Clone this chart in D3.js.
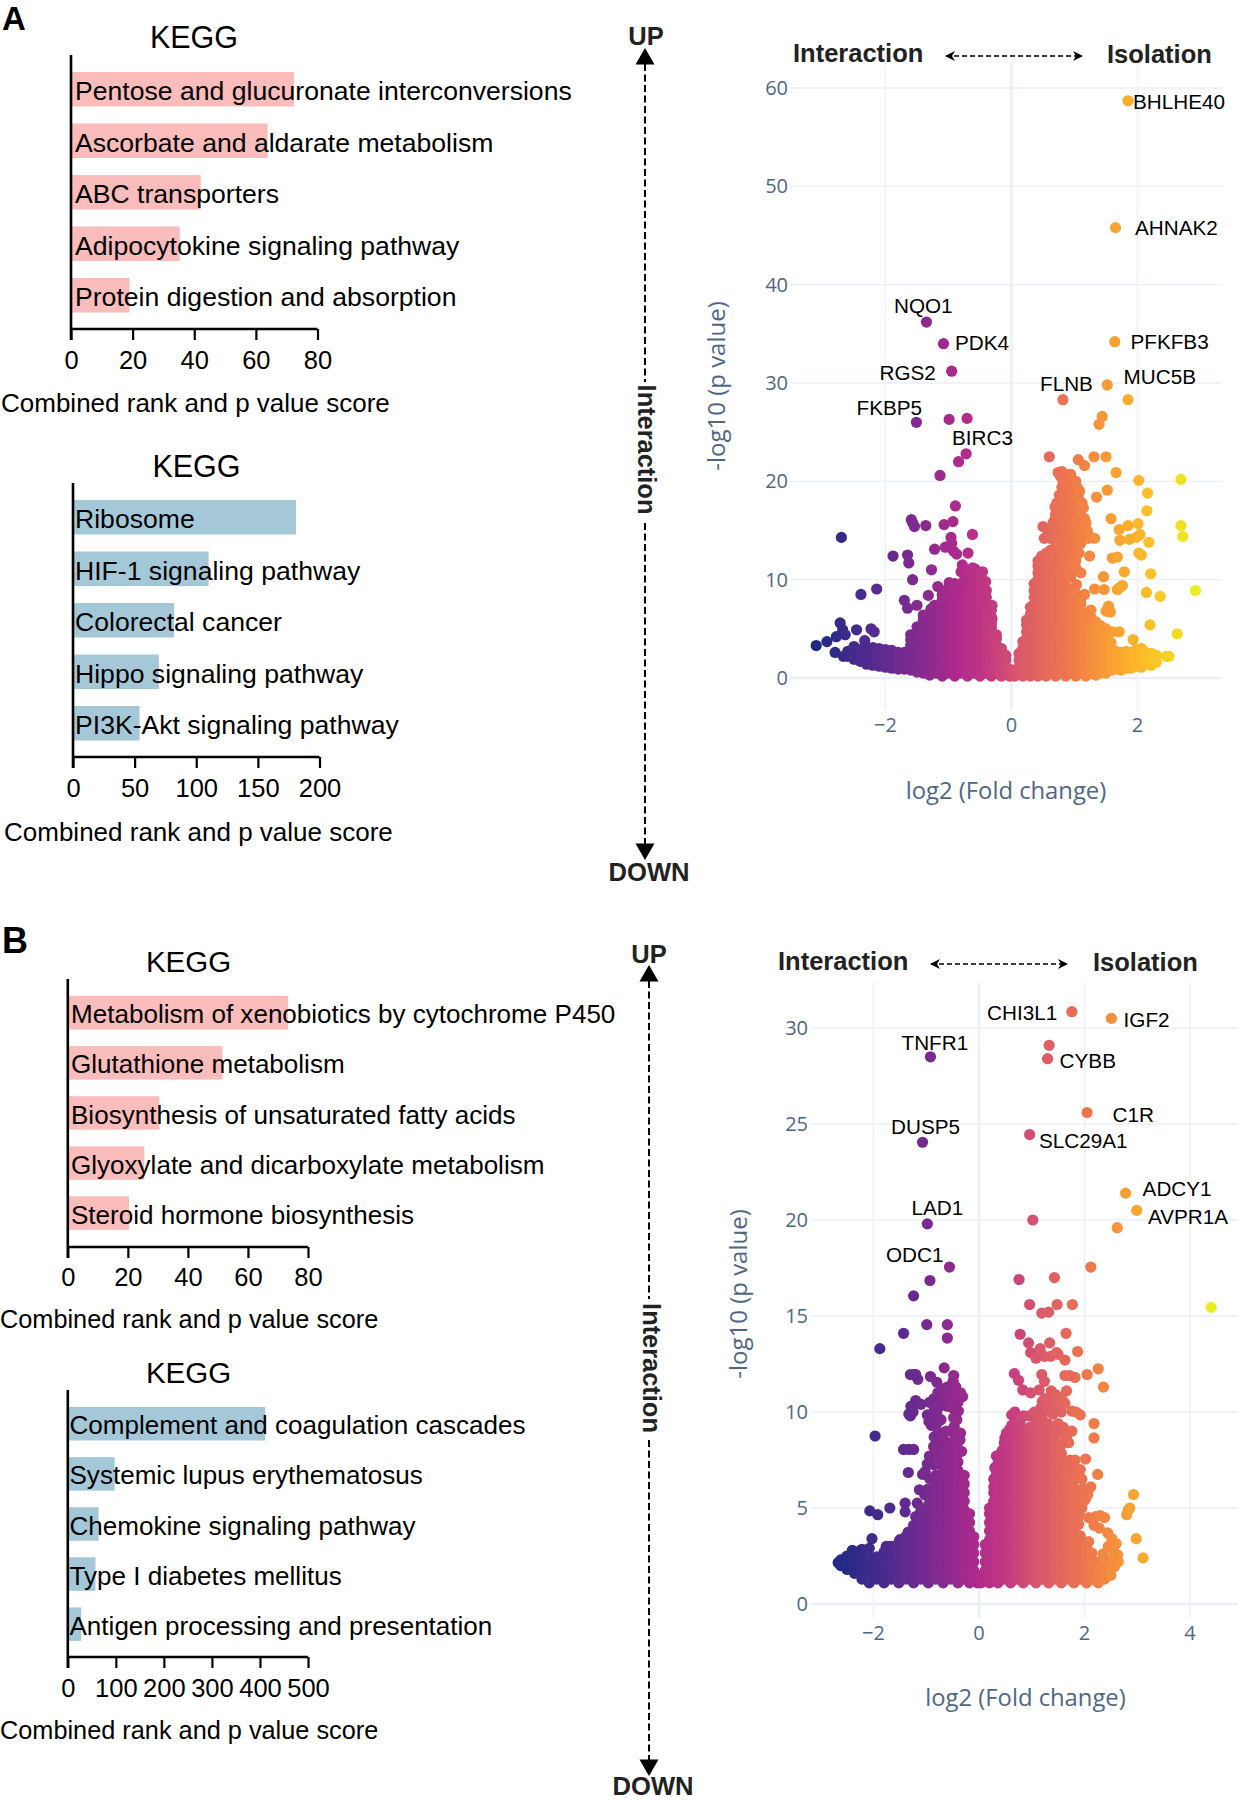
<!DOCTYPE html>
<html><head><meta charset="utf-8">
<style>html,body{margin:0;padding:0;background:#fff}svg{display:block}</style>
<script src="https://cdn.jsdelivr.net/npm/d3@7/dist/d3.min.js"></script></head><body>
<svg id="c" width="1240" height="1800"></svg>
<script>
// ---------- bar panels ----------
const pathwaysA1=["Pentose and glucuronate interconversions","Ascorbate and aldarate metabolism","ABC transporters","Adipocytokine signaling pathway","Protein digestion and absorption"];
const scoresA1=[72.4,63.8,42.1,35.3,19];
const ticksA1=[0,20,40,60,80];
const pathwaysA2=["Ribosome","HIF-1 signaling pathway","Colorectal cancer","Hippo signaling pathway","PI3K-Akt signaling pathway"];
const scoresA2=[181,110,82,69.7,54];
const ticksA2=[0,50,100,150,200];
const pathwaysB1=["Metabolism of xenobiotics by cytochrome P450","Glutathione metabolism","Biosynthesis of unsaturated fatty acids","Glyoxylate and dicarboxylate metabolism","Steroid hormone biosynthesis"];
const scoresB1=[73.4,51.5,30.5,25.5,20.4];
const ticksB1=[0,20,40,60,80];
const pathwaysB2=["Complement and coagulation cascades","Systemic lupus erythematosus","Chemokine signaling pathway","Type I diabetes mellitus","Antigen processing and presentation"];
const scoresB2=[411,97.5,64,57.6,28];
const ticksB2=[0,100,200,300,400,500];

// ---------- volcano A: named genes ----------
const genesA=["BHLHE40","AHNAK2","NQO1","PDK4","RGS2","PFKFB3","MUC5B","FLNB","FKBP5","BIRC3"];
const geneXA=[1.85,1.65,-1.35,-1.08,-0.95,1.64,1.52,0.815,-1.51,-0.72];
const geneYA=[58.7,45.8,36.2,34.0,31.2,34.2,29.8,28.3,26.0,22.8];
// other separate points [log2FC, -log10p]
const sparseA=[[1.85,28.3],[1.44,26.6],[1.39,25.8],[-0.99,26.3],[-0.705,26.4],[-0.84,22],[-1.135,20.6],[-0.89,17.5],[-1.59,16.1],[-1.57,15.8],[-1.54,15.4],[-1.36,15.5],[-1.07,15.6],[-0.93,15.9],[-0.62,14.6],[-2.7,14.3],[-0.96,14.3],[-0.95,13.7],[-1.05,13.3],[-0.92,12.9],[-0.87,12.6],[-0.69,12.7],[-1.22,13.1],[-1.88,12.4],[-1.65,12.5],[-1.63,11.7],[-1.27,11],[-1.57,10],[-0.78,11.5],[-0.8,10.8],[-0.58,11.1],[-0.46,10.8],[-0.41,9.8],[-0.63,10.3],[-0.74,10.1],[-2.14,9.05],[-2.39,8.5],[-1.32,8.4],[-1.17,9.3],[-0.99,9.7],[-1.7,7.9],[-1.65,7.1],[-1.5,7.4],[-0.31,7.4],[-0.31,6],[-2.72,5.6],[-2.68,4.9],[-2.64,4.4],[-2.78,4.2],[-2.46,4.9],[-2.23,5],[-2.18,4.7],[-2.33,3.8],[-2.93,3.7],[-3.1,3.3],[-2.8,2.6],[-2.67,2.2],[-2.5,3.2],
[-1.1,8.5],[-1,9.2],[-.9,8.6],[-.9,9.6],[-.8,8.2],[-.8,8.9],[-.7,9.3],[-.7,9.9],[-.6,10.3],[-.5,10],[-.52,10.7],[-.68,10.7],[-.62,11.2],[-.4,7.5],[-.4,8.2],[-.4,8.9],[-.32,6.2],[-.32,6.9],[-1.28,7],[-1.22,7.4],[-1.4,6.4],
[0.6,22.5],[1.06,22.2],[1.16,21.6],[1.31,22.5],[1.5,22.5],[1.66,20.9],[1.35,18.4],[1.52,19.1],[1.58,16.2],[2.02,20.1],[2.16,18.8],[2.15,17],[2.69,20.2],[2.69,15.5],[2.72,14.4],[2.92,8.9],[2.63,4.5],[2.5,2.2],[2.46,2.2],[2.2,5.4],[2.36,8.3],[2.14,8.7],[2.21,10.6],[2.02,12.7],[2.06,12.5],[2.18,13.8],[2.01,15.7],[2.04,14.6],[1.98,14.3],[1.87,14.1],[1.85,15.5],[1.71,15.1],[1.72,14],[1.6,12.2],[1.68,12.3],[1.79,10.8],[1.46,10.3],[1.32,9.05],[1.47,9],[1.68,9],[1.72,9.2],[1.76,9.4],[1.54,7.3],[1.57,6.7],[1.5,6.8],[1.93,3.9],[1.71,4.7],[1.6,4.7],[1.24,12.4],[1.32,14.2],[1.18,15.8],[1.1,10.7],[1.03,9.5],[1.16,8.5],
[0.5,15.4],[0.58,14.6],[0.69,15.1],[0.69,16.1],[0.75,15.8],[0.85,16.4],[0.94,16.3],[0.69,17.4],[0.77,18.1],[0.85,19],[0.94,20.2],[0.8,21],[0.74,20.9],[0.88,20.7],[0.99,19.8],[1.05,19.3],[0.94,17.5],[1.07,18.1],[1.14,17.3],[0.99,18.6],[0.85,18.1],[0.78,17],[0.88,17.4],[0.95,15.4],[1.05,15.4],[1.13,15.1],[1.21,14.7],[0.96,14.7],[0.88,14.8],[0.8,14.9],[1.02,13.6],[1.1,13.7],[1.07,12.7],[0.96,12],[0.94,11.4],[1.0,16.9],[1.07,16.5],
[.52,14.2],[.62,14.2],[.72,14.2],[.82,14.2],[.92,14.2],[1.02,14.2],[1.12,14.2],[1.22,14.2],[.6,15],[.7,15],[.8,15.4],[.9,15],[1,15],[1.1,14.6],[1.2,15],[.66,15.8],[.76,16.4],[.86,15.8],[.96,15.8],[1.06,15.9],[1.16,16.2],[.7,16.6],[.8,16.6],[.9,16.6],[1,16.2],[1.1,17],[.72,17.8],[.82,17.6],[.92,17],[1.02,17.5],[1.12,17.8],[.76,18.6],[.86,18.6],[.96,18.2],[1.06,18.7],[.8,19.4],[.9,19.2],[1,19.1],[1.08,19],[.82,19.9],[.92,19.8],[1.02,20],[.78,20.5],[.86,20.2],[.94,20.7],[1.26,6.2],[1.26,6.9],[1.34,5.7],[1.42,5.3],[1.5,5]];
// dense mass: each row is a log2FC followed by the -log10p read at that column
const denseA=[
[-2.6,2.2,2.7],[-2.5,1.9,2.5,3.1],[-2.4,1.7,2.3,2.9],[-2.3,1.4,2,2.6,3.1],[-2.2,1.3,1.9,2.5,3.1],[-2.1,1.2,1.8,2.4,3],[-2,1.1,1.7,2.3,2.9],[-1.9,1,1.6,2.2,2.8],[-1.8,.9,1.5,2.1,2.6],[-1.7,.9,1.5,2.1,2.6],
[-1.6,.8,1.4,2,2.7,3.3,3.9,4.4],[-1.5,.6,1.3,1.9,2.6,3.3,4,4.7,5.2],[-1.4,.5,1.2,1.9,2.6,3.3,4,4.7,5.4,5.9],[-1.3,.3,.9,1.6,2.3,3,3.7,4.4,5.1,5.8,6.4],[-1.2,.5,1.2,1.9,2.6,3.3,4,4.7,5.4,6.1,6.8],
[-1.1,.2,.9,1.6,2.3,3,3.7,4.4,5.1,5.8,6.5,7.2,7.9],[-1,.5,1.2,1.9,2.6,3.3,4,4.7,5.4,6.1,6.8,7.5,8.2,8.7],[-.9,.2,.9,1.6,2.3,3,3.7,4.4,5.1,5.8,6.5,7.2,7.9,9.1],[-.8,.5,1.2,1.9,2.6,3.3,4,4.7,5.4,6.1,6.8,7.5,9.6],[-.7,.2,.9,1.6,2.3,3,3.7,4.4,5.1,5.8,6.5,7.2,7.9,8.6],[-.6,.5,1.2,1.9,2.6,3.3,4,4.7,5.4,6.1,6.8,7.5,8.2,8.9,9.6],[-.5,.2,.9,1.6,2.3,3,3.7,4.4,5.1,5.8,6.5,7.2,7.9,8.6,9.3],[-.4,.5,1.2,1.9,2.6,3.3,4,4.7,5.4,6.1,6.8],[-.32,.2,.9,1.6,2.3,3,3.7,4.4,5.1,5.5],[-.24,.5,1.2,1.9,2.6,3.3,4,4.4],[-.16,.2,.9,1.6,2.3,3],[-.09,.4,1.1,1.8,2.3],[-.03,.2,.9],
[.05,.2,.8],[.12,.4,1.1,1.8,2.5],[.18,.2,.9,1.6,2.3,3,3.7],[.24,.5,1.2,1.9,2.6,3.3,4,4.7,5.4,5.9],[.3,.2,.9,1.6,2.3,3,3.7,4.4,5.1,5.8,6.5,7.2],[.36,.5,1.2,1.9,2.6,3.3,4,4.7,5.4,6.1,6.8,7.5,8.2,8.9,9.6],
[.42,.2,.9,1.6,2.3,3,3.7,4.4,5.1,5.8,6.5,7.2,7.9,8.6,9.3,10,10.7,11.4,11.9],[.48,.5,1.2,1.9,2.6,3.3,4,4.7,5.4,6.1,6.8,7.5,8.2,8.9,9.6,10.3,11,11.7,12.4],[.55,.2,.9,1.6,2.3,3,3.7,4.4,5.1,5.8,6.5,7.2,7.9,8.6,9.3,10,10.7,11.4,12.1,12.7],
[.62,.5,1.2,1.9,2.6,3.3,4,4.7,5.4,6.1,6.8,7.5,8.2,8.9,9.6,10.3,11,11.7,12.4,13],[.7,.2,.9,1.6,2.3,3,3.7,4.4,5.1,5.8,6.5,7.2,7.9,8.6,9.3,10,10.7,11.4,12.1,12.8,13.3],[.78,.5,1.2,1.9,2.6,3.3,4,4.7,5.4,6.1,6.8,7.5,8.2,8.9,9.6,10.3,11,11.7,12.4,13.1,13.6],[.86,.2,.9,1.6,2.3,3,3.7,4.4,5.1,5.8,6.5,7.2,7.9,8.6,9.3,10,10.7,11.4,12.1,12.8,13.5],[.94,.5,1.2,1.9,2.6,3.3,4,4.7,5.4,6.1,6.8,7.5,8.2,8.9,10.3,11,11.7,12.4,13],[1.02,.2,.9,1.6,2.3,3,3.7,4.4,5.1,5.8,6.5,7.2,7.9,8.6,11.2,11.9],
[1.1,.5,1.2,1.9,2.6,3.3,4,4.7,5.4,6.1,6.8,7.5,8],[1.18,.2,.9,1.6,2.3,3,3.7,4.4,5.1,5.8,6.5],[1.26,.5,1.2,1.9,2.6,3.3,4,4.7,5.3],[1.34,.3,.9,1.6,2.3,3,3.7,4.4,5],[1.42,.5,1.2,1.9,2.6,3.3,4,4.7],[1.5,.5,1.1,1.8,2.5,3.1,4.2],[1.58,.8,1.5,2.2,2.9,3.6],[1.66,.9,1.5,2.1,2.7],[1.74,.8,1.4,2,2.6],[1.82,1,1.6,2.2,2.7],[1.9,1,1.6,2.2,2.6],[1.98,1.2,1.8,2.4,2.9],[2.06,1.1,1.7,2.3,3],[2.14,1.4,2,2.6],[2.22,1.3,1.9,2.5],[2.3,1.6,2.3]
];
// ---------- volcano B ----------
const genesB=["CHI3L1","IGF2","CYBB","TNFR1","C1R","SLC29A1","DUSP5","ADCY1","AVPR1A","LAD1","ODC1"];
const geneXB=[1.76,2.51,1.3,-0.92,2.05,0.96,-1.07,2.78,2.99,-0.98,-0.56];
const geneYB=[30.85,30.5,28.4,28.5,25.6,24.45,24.05,21.4,20.5,19.8,17.55];
const sparseB=[[1.33,29.1],[2.62,19.6],[1.02,20],[-0.93,16.85],[-1.24,16.05],[2.12,17.55],[.76,16.9],[1.43,17],[.96,15.6],[1.19,15.15],[1.32,15.2],[1.48,15.6],[1.77,15.6],[4.4,15.45],[-.99,14.55],[-.6,14.55],[-1.43,14.1],[-.6,13.85],[-1.88,13.3],[.78,14.05],[1.65,14.1],[.94,13.6],[1.34,13.6],[1.16,13.3],[.98,13.1],[1.47,13.1],[1.87,13.15],[1.24,12.9],[1.63,12.7],[1.08,12.8],[1.36,12.9],[1.5,13],
[-.66,12.3],[-1.2,11.95],[-1.3,11.95],[-1.16,11.7],[-1.24,11.95],[-.92,11.85],[-.8,11.55],[-.49,11.6],[-.55,11.25],[-.44,11.3],[-.5,10.9],[-.31,10.8],[-1.17,10.45],[-1.29,10.3],[-1.3,9.8],[-.85,10.7],[-.94,10.5],[-.98,9.85],[-.72,10.8],[-.6,10.3],[-.4,10.5],[-.39,10.05],[-.47,9.25],[-.46,8.8],[-1.97,8.75],[-.78,8.9],[-.59,8.4],[-.72,9.6],[-.9,9.3],[-1.43,8.05],[-1.33,8.05],[-1.24,8.05],[-.86,8.2],[-.94,7.7],[-.85,7.25],[-.36,8.55],[-.33,7.95],[-.95,7.3],[-1.34,6.85],[-1.07,6.75],[-.94,6.55],[-1.13,5.95],[-1.03,5.7],[-1.4,5.25],[-1.4,4.8],[-1.69,5],[-2.07,4.85],[-1.92,4.65],[-1.17,5.25],[-1.2,4.55],[-1.34,3.75],[-2.03,3.4],[-1.5,3.35],[-1.76,3],[-1.7,3],[-2.15,2.7],[-2.67,2.15],[-2.5,2.5],[-2.4,2.8],[-2.22,2.85],[-2.08,2.9],
[-.78,7.4],[-.78,7.9],[-.7,7.85],[-.7,8.3],[-.62,7.9],[-.55,8.1],[-.5,8.05],[-.42,8.3],[-.35,8.9],[-.42,9.6],[-.48,9.7],[-.5,10.2],[-.52,10.6],[-.6,10.8],[-.68,10.5],[-.75,10.3],[-.8,10],[-.85,10.1],[-.88,9.6],[-.95,9.5],[-.8,9.4],[-.72,8.9],[-.85,8.7],[-.8,8.4],[-.68,8.6],[-.62,9],[-.42,8.8],[-.42,11],[-.35,11],[-.48,11.9],[-.6,11.3],[-.7,11.2],[-.78,11],[-.65,7.5],[-.98,7.3],[-1.02,6.9],[-1.2,10.6],[-1.1,10.4],[-1.25,10],[-1.33,9.9],
[2.93,5.7],[2.83,4.9],[2.8,4.65],[2.86,5],[2.98,3.4],[3.11,2.4],[2.25,6.75],[1.82,7.5],[2.02,7.55],[1.92,7],[2.12,6.1],[2.18,9.4],[2.18,8.65],[2.36,11.3],[2.26,12.25],[2.05,11.95],[1.82,11.8],[1.63,11.9],[1.72,11.9],[1.66,11.1],[.67,12],[.75,11.65],[.83,11.15],[.98,11],[1.19,11.95],[1.24,11.6],[1.14,11.15],[1.37,11.1],[1.45,10.9],[1.5,10.8],[1.58,10.6],[1.63,10.45],[1.2,10.55],[1.17,10.2],[1.43,10.2],[1.56,10],[1.76,10.05],[1.84,10],[1.92,9.85],[.62,9.85],[.68,10],[1.3,10.2],[1.5,9.4],[1.6,9.2],[1.76,9],[1.66,8.7],[1.7,8.4],
[.49,8.65],[.52,8.9],[.58,9.1],[.62,9.3],[.7,9.4],[.78,9.5],[.85,9.8],[.95,9.8],[1.05,10],[1.12,9.9],[.33,7.7],[.3,7.1],[.33,6.75],[.28,6.5],[.4,7.8],[.44,8],[1.72,7.5],[1.8,7],[1.88,6.9],[1.95,6.5],[1.98,6],[1.9,5.6],[2.02,5.5],[1.85,5.2],[1.95,5],[1.9,4.6],[1.8,7.3],[1.25,10.7],[1.35,10.5],[1.5,10.3],[1.4,9.9],[1.3,9.4],[1.45,9.2],[1.56,8.9],
[1.89,4.15],[2.08,4.5],[2.21,4.55],[2.3,4.6],[2.38,4.5],[2.28,3.95],[2.18,4.1],[2.44,3.7],[2.6,3.15],[2.52,3.4],[2.08,3.25],[2.63,2.55],[2.51,2.3],[2.64,2.2],[2.57,1.95],[2.48,1.5],[2.25,2.2],[2.35,2.6],[2,5.4],[2.06,5.7],[1.95,5.9],[2.45,3],[2.56,2.7],[2.42,2.3],[2.3,2],[2.34,1.5],[2.42,1.8],[2.55,2.4]];
const denseB=[
[-2.62,2,2.3],[-2.5,1.8,2.2,2.5],[-2.36,1.6,2,2.4,2.6],[-2.22,1.3,1.75,2.2,2.55],[-2.08,1.1,1.55,2,2.45],[-1.94,1.3,1.75,2.2,2.45],[-1.8,1.1,1.55,2,2.45,2.7],[-1.66,1.3,1.75,2.2,2.65,3],[-1.52,1.1,1.55,2,2.45,2.9,3.2],[-1.38,1.3,1.75,2.2,2.65,3.1,3.55],[-1.24,1.1,1.55,2,2.45,2.9,3.35,3.8,4.1],[-1.1,1.3,1.75,2.2,2.65,3.1,3.55,4,4.45,4.9],[-.96,1.1,1.55,2,2.45,2.9,3.35,3.8,4.25,4.7,5.15,5.6,6],[-.82,1.3,1.75,2.2,2.65,3.1,3.55,4,4.45,4.9,5.35,5.8,6.25,6.7],[-.68,1.1,1.55,2,2.45,2.9,3.35,3.8,4.25,4.7,5.15,5.6,6.05,6.5,6.95,7.4],[-.54,1.3,1.75,2.2,2.65,3.1,3.55,4,4.45,4.9,5.35,5.8,6.25,6.7,7.15,7.6],[-.4,1.1,1.55,2,2.45,2.9,3.35,3.8,4.25,4.7,5.15,5.6,6.05,6.5,6.95,7.4,7.85],[-.28,1.3,1.75,2.2,2.65,3.1,3.55,4,4.45,4.9,5.35,5.8,6.25,6.7],[-.18,1.1,1.55,2,2.45,2.9,3.35,3.8,4.25,4.7],[-.1,1.3,1.75,2.2,2.65,3.1,3.5],[-.03,1.1,1.5],
[.04,1.1,1.45],[.12,1.3,1.75,2.2,2.65,3.1],[.2,1.1,1.55,2,2.45,2.9,3.35,3.8,4.25,4.7,5],[.28,1.3,1.75,2.2,2.65,3.1,3.55,4,4.45,4.9,5.35,5.8,6.1],[.36,1.1,1.55,2,2.45,2.9,3.35,3.8,4.25,4.7,5.15,5.6,6.05,6.5,6.95,7.3],[.48,1.3,1.75,2.2,2.65,3.1,3.55,4,4.45,4.9,5.35,5.8,6.25,6.7,7.15,7.6,8.05,8.4],[.6,1.1,1.55,2,2.45,2.9,3.35,3.8,4.25,4.7,5.15,5.6,6.05,6.5,6.95,7.4,7.85,8.3,8.7],[.72,1.3,1.75,2.2,2.65,3.1,3.55,4,4.45,4.9,5.35,5.8,6.25,6.7,7.15,7.6,8.05,8.5,8.9],[.84,1.1,1.55,2,2.45,2.9,3.35,3.8,4.25,4.7,5.15,5.6,6.05,6.5,6.95,7.4,7.85,8.3,8.75,9.1],[.96,1.3,1.75,2.2,2.65,3.1,3.55,4,4.45,4.9,5.35,5.8,6.25,6.7,7.15,7.6,8.05,8.5,8.95,9.2],[1.08,1.1,1.55,2,2.45,2.9,3.35,3.8,4.25,4.7,5.15,5.6,6.05,6.5,6.95,7.4,7.85,8.3,8.75,9.2,9.5],[1.2,1.3,1.75,2.2,2.65,3.1,3.55,4,4.45,4.9,5.35,5.8,6.25,6.7,7.15,7.6,8.05,8.5,8.95,9.4,9.8],[1.32,1.1,1.55,2,2.45,2.9,3.35,3.8,4.25,4.7,5.15,5.6,6.05,6.5,6.95,7.4,7.85,8.3,8.75,9.2],[1.44,1.3,1.75,2.2,2.65,3.1,3.55,4,4.45,4.9,5.35,5.8,6.25,6.7,7.15,7.6,8.05,8.5,8.9],[1.56,1.1,1.55,2,2.45,2.9,3.35,3.8,4.25,4.7,5.15,5.6,6.05,6.5,6.95,7.4,7.85,8.3],[1.68,1.3,1.75,2.2,2.65,3.1,3.55,4,4.45,4.9,5.35,5.8,6.25,6.7,7.15],[1.8,1.1,1.55,2,2.45,2.9,3.35,3.8,4.25,4.7,5.15,5.6,6.05,6.5],[1.92,1.3,1.75,2.2,2.65,3.1,3.55],[2.04,1.1,1.55,2,2.45,2.9],[2.14,1.3,1.75,2.2,2.65],[2.26,1.1,1.55,1.9],[2.38,1.3,1.75,2.2],[2.5,1.5,1.9]
];
const xTicksA=[-2,0,2], yTicksA=[0,10,20,30,40,50,60];
const xTicksB=[-2,0,2,4], yTicksB=[0,5,10,15,20,25,30];
const colorStops=[[0,"#1e2a84"],[.12,"#4a2a8e"],[.25,"#7a2a90"],[.38,"#b02a8c"],[.46,"#c43a80"],[.53,"#d8556e"],[.68,"#f07a4a"],[.78,"#f9a033"],[.86,"#fdb92a"],[.94,"#f5d824"],[1,"#e8ee20"]];

// ---------- layout (pixels) ----------
const sans="'Liberation Sans',Arial,Helvetica,sans-serif", plot="'Open Sans',sans-serif";
const svg=d3.select("#c");
const txt=(x,y,s,o={})=>{const t=svg.append("text").attr("x",x).attr("y",y).attr("dy",".35em").text(s)
  .attr("font-family",o.family||sans).attr("font-size",o.size||25.5).attr("fill",o.fill||"#000")
  .attr("font-weight",o.weight||"normal").attr("text-anchor",o.anchor||"start");
  if(o.rot!=null)t.attr("transform",`rotate(${o.rot} ${x} ${y})`);return t;};

function barPanel(names,vals,ticks,L){
  const x=d3.scaleLinear().domain(d3.extent(ticks)).range([L.x0,L.x1]);
  svg.append("g").selectAll("rect").data(vals).join("rect").attr("x",x(0)).attr("y",(d,i)=>L.barTop+i*L.step)
    .attr("width",d=>x(d)-x(0)).attr("height",L.h).attr("fill",L.color);
  const g=svg.append("g").attr("transform",`translate(0,${L.bottom})`);
  const ax=d3.axisBottom(x).tickValues(ticks).tickSize(11).tickPadding(0).tickFormat(d3.format("d"));
  g.call(ax);g.select(".domain").attr("stroke","#000").attr("stroke-width",2.6).attr("d",`M${L.x0},0H${L.x1}`);
  g.selectAll(".tick line").attr("stroke","#000").attr("stroke-width",2.2);
  g.selectAll(".tick text").attr("y",L.tickLab-L.bottom).attr("dy",".35em").attr("font-family",sans).attr("font-size",25.5).attr("fill","#000");
  svg.append("line").attr("x1",L.x0).attr("x2",L.x0).attr("y1",L.top).attr("y2",L.bottom+11).attr("stroke","#000").attr("stroke-width",2.6);
  names.forEach((n,i)=>txt(L.textX,L.barTop+i*L.step+L.h/2+1.5,n,{size:L.fs}));
  txt(L.keggX,L.keggY,"KEGG",{anchor:"middle",size:L.keggFs});
  txt(L.titleX,L.titleY,"Combined rank and p value score",{size:L.titleFs});
}
const pink="#fbbcbc", blue="#a5c8d9";
barPanel(pathwaysA1,scoresA1,ticksA1,{x0:71,x1:317.5,top:55,bottom:329,barTop:72,step:51.5,h:34.5,color:pink,tickLab:360,textX:75,keggX:194,keggY:37,titleX:1,titleY:403,fs:26.6,titleFs:26,keggFs:30.5});
barPanel(pathwaysA2,scoresA2,ticksA2,{x0:73,x1:319.5,top:483,bottom:757,barTop:500,step:51.5,h:34.5,color:blue,tickLab:788,textX:75,keggX:196.5,keggY:466,titleX:4,titleY:832,fs:26.6,titleFs:26,keggFs:30.5});
barPanel(pathwaysB1,scoresB1,ticksB1,{x0:67.8,x1:308,top:979,bottom:1247,barTop:996,step:50.1,h:33.5,color:pink,tickLab:1277,textX:71,keggX:188.5,keggY:962,titleX:0,titleY:1319,fs:26.05,titleFs:25.3,keggFs:29.5});
barPanel(pathwaysB2,scoresB2,ticksB2,{x0:67.8,x1:308,top:1390,bottom:1657,barTop:1407,step:50.1,h:33.5,color:blue,tickLab:1688,textX:69.5,keggX:188.5,keggY:1373,titleX:0,titleY:1730,fs:26.05,titleFs:25.3,keggFs:29.5});

txt(2,18,"A",{size:33,weight:"bold"});
txt(2,940,"B",{size:36,weight:"bold"});

// arrows
const defs=svg.append("defs");
defs.append("marker").attr("id","small").attr("viewBox","0 0 10 10").attr("refX",9).attr("refY",5).attr("markerWidth",10).attr("markerHeight",10).attr("markerUnits","userSpaceOnUse").attr("orient","auto-start-reverse")
  .append("path").attr("d","M0,0L10,5L0,10L3,5Z").attr("fill","#000");
function dash(x1,y1,x2,y2,w=2){return svg.append("line").attr("x1",x1).attr("y1",y1).attr("x2",x2).attr("y2",y2).attr("stroke","#000").attr("stroke-width",w).attr("stroke-dasharray","7 3.5");}
function tri(x,tip,dir){svg.append("path").attr("d",d3.line()([[x,tip],[x-9.5,tip+dir*16.5],[x+9.5,tip+dir*16.5]])+"Z").attr("fill","#000");}
function vArrow(x,tip1,gap1,gap2,tip2,textX,textCy,upX,upY,dnX,dnY){
  tri(x,tip1,1);tri(x,tip2,-1);
  dash(x,tip1+16,x,gap1);dash(x,gap2,x,tip2-16);
  txt(textX,textCy,"Interaction",{anchor:"middle",weight:"bold",size:25.4,fill:"#222",rot:90});
  txt(upX,upY,"UP",{anchor:"middle",weight:"bold",size:25.5,fill:"#222"});
  txt(dnX,dnY,"DOWN",{anchor:"middle",weight:"bold",size:25.6,fill:"#222"});
}
vArrow(645,48,382,523,860,647,449.5,646,36,649,872.5);
vArrow(649,965,1299,1440,1776,652,1368,649,954,653,1786.5);

function volcano(genes,gx,gy,sparse,dense,xTicks,yTicks,L){
  const x=d3.scaleLinear().domain([0,2]).range([L.x0,L.x2]);
  const y=d3.scaleLinear().domain([0,L.yRef]).range([L.y0,L.yR]);
  const pts=[...genes.map((g,i)=>[gx[i],gy[i]]),...sparse,...dense.flatMap(r=>r.slice(1).map(v=>[r[0],v]))];
  const ext=d3.extent(pts,d=>d[0]);
  const c=d3.scaleLinear().domain(colorStops.map(s=>ext[0]+s[0]*(ext[1]-ext[0]))).range(colorStops.map(s=>s[1]));
  const grid=svg.append("g");
  yTicks.forEach(t=>grid.append("line").attr("x1",L.gl).attr("x2",L.gr).attr("y1",y(t)).attr("y2",y(t)).attr("stroke","#ebf0f8").attr("stroke-width",t==0?2.6:1.4));
  xTicks.forEach(t=>grid.append("line").attr("x1",x(t)).attr("x2",x(t)).attr("y1",L.gt).attr("y2",L.gb).attr("stroke","#ebf0f8").attr("stroke-width",t==0?2.6:1.4));
  const tickCol="#506784";
  yTicks.forEach(t=>txt(L.yLab,y(t),d3.format("d")(t),{family:plot,size:20,anchor:"end",fill:tickCol}));
  xTicks.forEach(t=>txt(x(t),L.xLab,(t<0?"\u2212":"")+Math.abs(t),{family:plot,size:20,anchor:"middle",fill:tickCol}));
  txt(L.xtX,L.xtY,"log2 (Fold change)",{family:plot,size:23.8,anchor:"middle",fill:tickCol});
  txt(L.ytX,L.ytY,"-log10 (p value)",{family:plot,size:24,anchor:"middle",fill:tickCol,rot:-90});
  svg.append("g").selectAll("circle").data(pts).join("circle").attr("cx",d=>x(d[0])).attr("cy",d=>y(d[1])).attr("r",5.6).attr("fill",d=>c(d[0]));
  genes.forEach((g,i)=>txt(L.labels[i][0],L.labels[i][1],g,{size:20.7}));
  txt(L.intX,L.head,"Interaction",{weight:"bold",size:25.5,fill:"#222"});
  txt(L.isoX,L.head+1,"Isolation",{weight:"bold",size:25.5,fill:"#222"});
  svg.append("line").attr("x1",L.a0).attr("x2",L.a1).attr("y1",L.head+3).attr("y2",L.head+3).attr("stroke","#000").attr("stroke-width",1.5).attr("stroke-dasharray","5 3").attr("marker-start","url(#small)").attr("marker-end","url(#small)");
}
volcano(genesA,geneXA,geneYA,sparseA,denseA,xTicksA,yTicksA,{x0:1011.5,x2:1137.5,y0:678,yR:88,yRef:60,gl:790,gr:1222,gt:63,gb:710,yLab:788,xLab:725,xtX:1006,xtY:791,ytX:717,ytY:386,intX:793,isoX:1107,head:53,a0:946,a1:1082,
 labels:[[1133,102],[1135,228],[894,306],[955,343],[879.5,373],[1130.5,342],[1123.6,377],[1040,384],[856.5,408],[952,438]]});
volcano(genesB,geneXB,geneYB,sparseB,denseB,xTicksB,yTicksB,{x0:979,x2:1084.5,y0:1604,yR:1028,yRef:30,gl:810,gr:1238,gt:983,gb:1618,yLab:808,xLab:1633,xtX:1025.5,xtY:1698,ytX:739,ytY:1294,intX:778,isoX:1093,head:961,a0:931,a1:1067,
 labels:[[987,1013],[1123.6,1020],[1059.6,1061],[901.5,1043],[1112.5,1115],[1039,1141],[891,1127],[1142.6,1189],[1148,1217],[911.5,1208],[886,1255]]});
</script></body></html>
